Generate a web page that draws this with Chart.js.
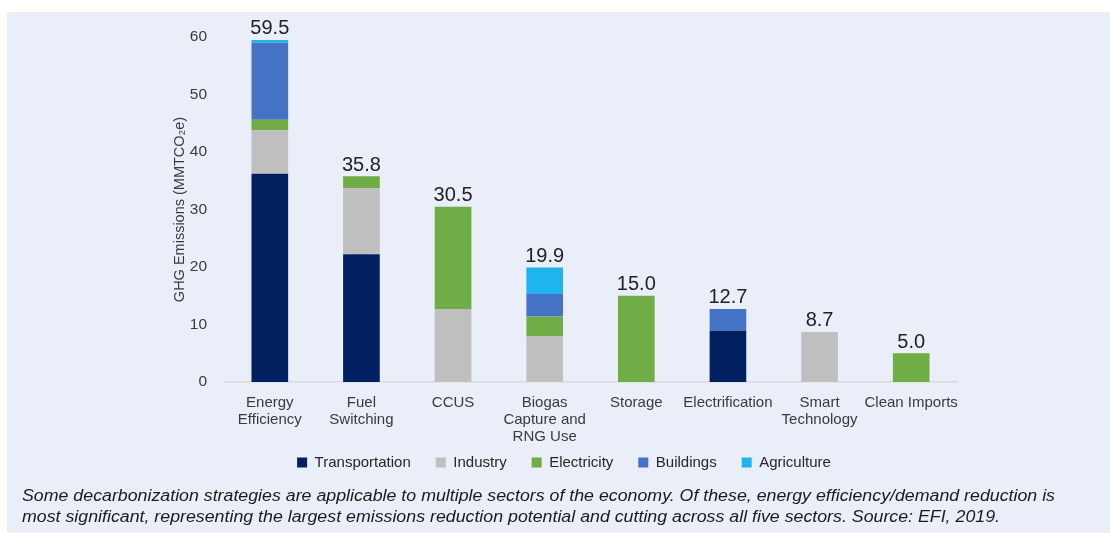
<!DOCTYPE html>
<html>
<head>
<meta charset="utf-8">
<script src="https://cdn.jsdelivr.net/npm/chart.js@4.4.1/dist/chart.umd.min.js"></script>
<style>
  html, body { margin: 0; padding: 0; background: #ffffff; }
  body { width: 1110px; height: 533px; position: relative; overflow: hidden; }
  #panel { position: absolute; left: 7px; top: 12px; width: 1103px; height: 521px; background: #eaeef8; }
  #chart { position: absolute; left: 0; top: 0; }
  .note { position: absolute; left: 15px; font: italic 16px "Liberation Sans", Arial, sans-serif; color: #1a1a1a;
          white-space: nowrap; transform-origin: 0 50%; }
</style>
</head>
<body>
<div id="panel">
  <canvas id="chart" width="1103" height="521"></canvas>
  <div class="note" id="note1" style="top:475px">Some decarbonization strategies are applicable to multiple sectors of the economy. Of these, energy efficiency/demand reduction is</div>
  <div class="note" id="note2" style="top:496px">most significant, representing the largest emissions reduction potential and cutting across all five sectors. Source: EFI, 2019.</div>
</div>
<script>
// Strategies (one stacked bar each)
const categories = [
  ['Energy', 'Efficiency'],
  ['Fuel', 'Switching'],
  'CCUS',
  ['Biogas', 'Capture and', 'RNG Use'],
  'Storage',
  'Electrification',
  ['Smart', 'Technology'],
  'Clean Imports'
];

// Emissions reduction by sector, MMTCO2e
const transportation = [36.2, 22.2, 0,    0,   0,    8.9, 0,   0];
const industry       = [7.6,  11.5, 12.7, 7.9, 0,    0,   8.7, 0];
const electricity    = [1.8,  2.1,  17.8, 3.5, 15.0, 0,   0,   5.0];
const buildings      = [13.4, 0,    0,    3.9, 0,    3.8, 0,   0];
const agriculture    = [0.5,  0,    0,    4.6, 0,    0,   0,   0];

const yTicks = [0, 10, 20, 30, 40, 50, 60];

const FONT = '"Liberation Sans", Arial, sans-serif';

// Stack totals printed above each bar
const totalLabels = {
  id: 'totalLabels',
  afterDatasetsDraw(chart) {
    const { ctx, scales: { x, y } } = chart;
    ctx.save();
    ctx.font = '20px ' + FONT;
    ctx.fillStyle = '#222222';
    ctx.textAlign = 'center';
    ctx.textBaseline = 'bottom';
    categories.forEach((c, i) => {
      const total = chart.data.datasets.reduce((s, d) => s + (d.data[i] || 0), 0);
      ctx.fillText(total.toFixed(1), x.getPixelForValue(i), y.getPixelForValue(total) - 1);
    });
    ctx.restore();
  }
};

new Chart(document.getElementById('chart'), {
  type: 'bar',
  data: {
    labels: categories,
    datasets: [
      { label: 'Transportation', data: transportation, backgroundColor: '#002060' },
      { label: 'Industry',       data: industry,       backgroundColor: '#bfbfbf' },
      { label: 'Electricity',    data: electricity,    backgroundColor: '#70ad47' },
      { label: 'Buildings',      data: buildings,      backgroundColor: '#4472c4' },
      { label: 'Agriculture',    data: agriculture,    backgroundColor: '#1fb4ee' }
    ]
  },
  options: {
    responsive: false,
    devicePixelRatio: 1,
    animation: false,
    layout: { padding: { left: 164, right: 153, top: 25, bottom: 53 } },
    datasets: { bar: { categoryPercentage: 1.0, barPercentage: 0.4, borderWidth: 0 } },
    scales: {
      x: {
        stacked: true,
        grid: { display: false },
        border: { display: true, color: '#d9d9d9', width: 1.5 },
        ticks: { color: '#3a3a3a', font: { family: FONT, size: 15, lineHeight: 1.15 }, padding: 4, maxRotation: 0, autoSkip: false },
        afterFit(scale) {
          scale.height = 48;
          // let the three-line label run below the axis box
          scale._computeLabelArea = () => undefined;
        }
      },
      y: {
        stacked: true,
        min: 0, max: 60,
        afterBuildTicks(scale) { scale.ticks = yTicks.map(v => ({ value: v })); },
        grid: { display: false },
        border: { display: false },
        ticks: { color: '#3a3a3a', font: { family: FONT, size: 15.5 }, padding: 9 },
        title: {
          display: true,
          text: 'GHG Emissions (MMTCO₂e)',
          color: '#3a3a3a',
          font: { family: FONT, size: 14.5, lineHeight: 1.2 },
          padding: { top: 0, bottom: 0 }
        },
        afterFit(scale) { scale.width = 53; }
      }
    },
    plugins: {
      legend: {
        position: 'bottom',
        labels: { color: '#262626', font: { family: FONT, size: 15 }, boxWidth: 10, boxHeight: 10, padding: 25 }
      },
      tooltip: { enabled: false },
      totalLabels: {}
    }
  },
  plugins: [totalLabels]
});

// Fit the caption lines to the panel width
(function () {
  const n1 = document.getElementById('note1');
  const n2 = document.getElementById('note2');
  const k = 1033 / n1.getBoundingClientRect().width;
  n1.style.transform = 'scaleX(' + k + ')';
  n2.style.transform = 'scaleX(' + k + ')';
})();
</script>
</body>
</html>
